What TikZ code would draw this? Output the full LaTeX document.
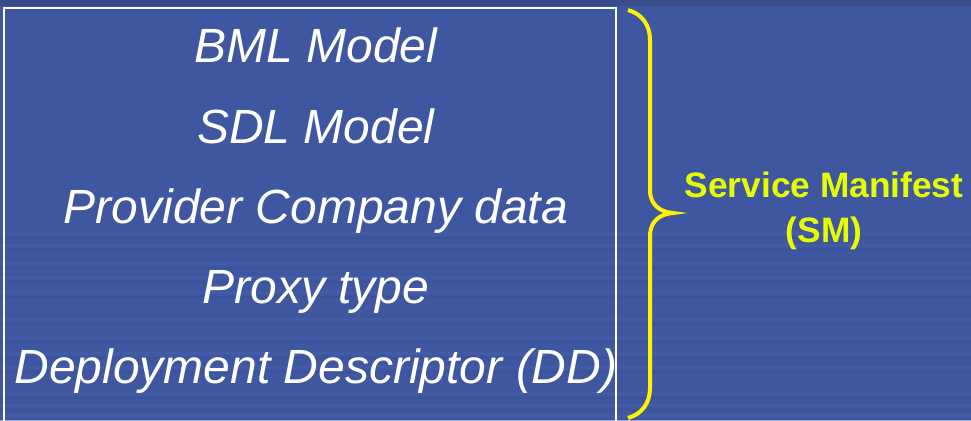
\documentclass[tikz,border=0pt]{standalone}
\usepackage{fontspec}
\setmainfont{Liberation Sans}
\definecolor{bg}{HTML}{3F57A0}
\definecolor{bgtop}{HTML}{394B8B}
\definecolor{bgstripe}{HTML}{4A62AA}
\definecolor{bgdark}{HTML}{38509A}
\definecolor{smyellow}{HTML}{E6FF00}
\begin{document}
\begin{tikzpicture}[x=1pt,y=-1pt,
  item/.style={anchor=base,text=white,font=\fontsize{48}{56}\selectfont\itshape,inner sep=0pt},
  smtext/.style={text=smyellow,font=\fontsize{35.3}{45}\selectfont\bfseries,align=center,inner sep=0pt},
  bracestyle/.style={draw=yellow,line width=4pt,line cap=butt}]
\useasboundingbox (0,0) rectangle (971,420);
\fill[bg] (0,0) rectangle (971,420);
\fill[bgtop] (0,0) rectangle (971,6);
\foreach \yy in {232,244,262,276,291,318,336,352,366,392,404,414}{
  \fill[bgstripe,opacity=0.45] (0,\yy) rectangle (971,\yy+3);
  \fill[bgdark,opacity=0.45] (0,\yy+5) rectangle (971,\yy+7);
}
\draw[white,line width=1.5pt] (4,8) rectangle (616,430);
\node[item] (bml) at (316,63) {BML Model};
\node[item] (sdl) at (316,143) {SDL Model};
\node[item] (prov) at (316,223) {Provider Company data};
\node[item] (proxy) at (316,303) {Proxy type};
\node[item] (dd) at (316,383) {Deployment Descriptor (DD)};
\coordinate (btop) at (628,10);
\coordinate (btip) at (673,213);
\coordinate (bbot) at (628,418);
\draw[bracestyle] (btop) .. controls (642,14) and (650,25) .. (650,40)
  -- (650,190) .. controls (650,205) and (660,212) .. (btip)
  .. controls (660,214) and (650,221) .. (650,236)
  -- (650,388) .. controls (650,403) and (642,414) .. (bbot);
\node[smtext,anchor=base] (sm1) at (824,197) {Service Manifest};
\node[smtext,anchor=base] (sm2) at (824,242) {(SM)};
\end{tikzpicture}
\end{document}
